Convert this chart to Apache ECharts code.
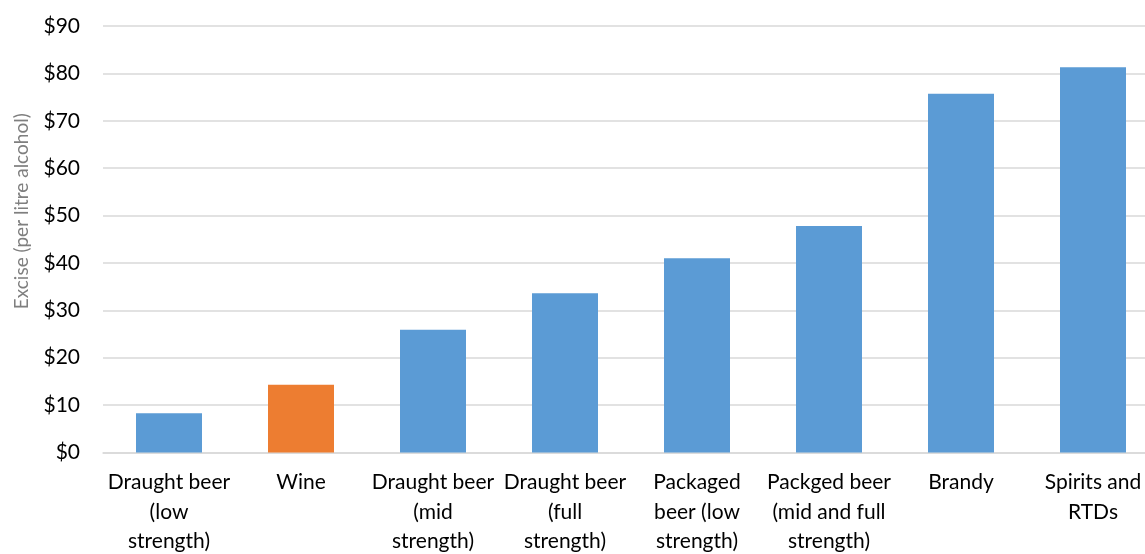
<!DOCTYPE html>
<html>
<head>
<meta charset="utf-8">
<script src="https://cdn.jsdelivr.net/npm/echarts@6/dist/echarts.min.js"></script>
<style>
html,body{margin:0;padding:0;background:#fff;}
#chart{width:1145px;height:554px;}
</style>
</head>
<body>
<div id="chart"></div>
<script>
var categories = [
  "Draught beer\n(low\nstrength)",
  "Wine",
  "Draught beer\n(mid\nstrength)",
  "Draught beer\n(full\nstrength)",
  "Packaged\nbeer (low\nstrength)",
  "Packged beer\n(mid and full\nstrength)",
  "Brandy",
  "Spirits and\nRTDs"
];
var exciseValues = [8.3, 14.3, 25.9, 33.6, 41.0, 47.8, 75.7, 81.3];
var yTicks = { min: 0, max: 90, interval: 10 };
var highlightCategory = "Wine";

var chart = echarts.init(document.getElementById('chart'), null, {renderer: 'canvas'});
var FONT = 'Lato, "Open Sans", sans-serif';
chart.setOption({
  animation: false,
  backgroundColor: '#ffffff',
  grid: { left: 103, width: 1056, top: 26, height: 426.5, containLabel: false, outerBoundsMode: 'none' },
  xAxis: {
    type: 'category',
    data: categories,
    axisLine: { lineStyle: { color: '#d9d9d9', width: 1.5 } },
    axisTick: { show: false },
    axisLabel: {
      interval: 0,
      margin: 15,
      color: '#000000',
      fontFamily: FONT,
      fontSize: 21,
      lineHeight: 29.5,
      align: 'center'
    }
  },
  yAxis: {
    type: 'value',
    min: yTicks.min,
    max: yTicks.max,
    interval: yTicks.interval,
    name: 'Excise (per litre alcohol)',
    nameLocation: 'middle',
    nameGap: 72,
    nameTextStyle: { color: '#7f7f7f', fontFamily: FONT, fontSize: 19, padding: [0, 0, 0, 56] },
    axisLine: { show: false },
    axisTick: { show: false },
    splitLine: { lineStyle: { color: '#d9d9d9', width: 1.5 } },
    axisLabel: {
      margin: 23,
      color: '#000000',
      fontFamily: FONT,
      fontSize: 21,
      formatter: function (v) { return '$' + v; }
    }
  },
  series: [{
    type: 'bar',
    barWidth: '50%',
    data: exciseValues.map(function (v, i) {
      return {
        value: v,
        itemStyle: { color: categories[i] === highlightCategory ? '#ED7D31' : '#5B9BD5' }
      };
    })
  }]
});
</script>
</body>
</html>
